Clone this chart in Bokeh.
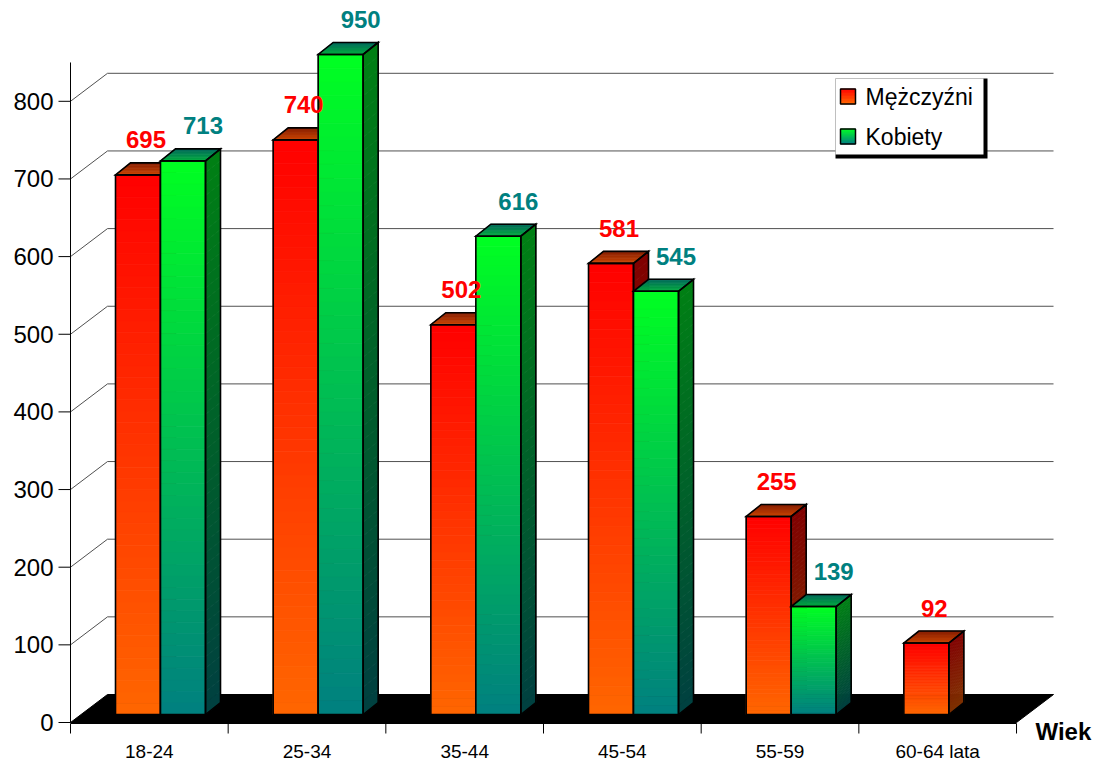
import numpy as np
from bokeh.plotting import figure
from bokeh.models import Range1d, ColumnDataSource
from bokeh.core.properties import value
from bokeh.embed import file_html
from bokeh.resources import INLINE

# ---------------- data ----------------
categories = ["18-24", "25-34", "35-44", "45-54", "55-59", "60-64 lata"]
series_names = ["Mężczyźni", "Kobiety"]
men = [695, 740, 502, 581, 255, 92]
women = [713, 950, 616, 545, 139, None]
y_ticks = [0, 100, 200, 300, 400, 500, 600, 700, 800]
y_tick_labels = ["0", "100", "200", "300", "400", "500", "600", "700", "800"]
axis_max = 850
x_title = "Wiek"

# ---------------- layout (picture px) ----------------
W, H = 1099, 762
OFF = 0
X0, CAT_PX = 70.0, 157.67      # x of category 0, px per category
Y0, V_PX = 722.0, 0.7765       # y of value 0 (front), px per unit


def cx(X):
    return (X - X0) / CAT_PX


def vy(Y):
    return (Y0 - Y) / V_PX


def dcx(dx):
    return dx / CAT_PX


def dvy(dy):  # dy: px upward
    return dy / V_PX


p = figure(width=W, height=H,
           x_range=Range1d(cx(OFF), cx(OFF + W)),
           y_range=Range1d(vy(OFF + H), vy(OFF)),
           output_backend="svg", toolbar_location=None,
           min_border=0, x_axis_type=None, y_axis_type=None)
p.outline_line_color = None
p.background_fill_color = "white"

FONT = value("Liberation Sans")

# wall depth
WX, WV = dcx(37), dvy(28)
n_cat = len(categories)

# floor
p.patch([0, WX, n_cat + WX, n_cat], [0, WV, WV, 0], fill_color="black", line_color="black")

# gridlines on back wall + diagonals on side wall
gx, gy = [], []
for t in y_ticks[1:]:
    gx.append([0, WX, n_cat + WX])
    gy.append([t, t + WV, t + WV])
p.multi_line(gx, gy, line_color="#505050", line_width=1)

# y axis line + ticks
p.line([0, 0], [0, axis_max], line_color="black", line_width=1)
p.segment(x0=[dcx(-12)] * len(y_ticks), y0=y_ticks, x1=[0] * len(y_ticks), y1=y_ticks,
          line_color="black", line_width=1)
p.text(x=[dcx(-17)] * len(y_ticks), y=y_ticks, text=y_tick_labels, text_font=FONT,
       text_font_size="24px", text_align="right", text_baseline="middle", text_color="black")

# x axis line + ticks
xa_v = vy(723)
p.line([0, n_cat], [xa_v, xa_v], line_color="black", line_width=1)
ticks_c = list(range(n_cat + 1))
p.segment(x0=ticks_c, y0=[xa_v] * len(ticks_c), x1=ticks_c, y1=[vy(733)] * len(ticks_c),
          line_color="black", line_width=1)
p.text(x=[i + 0.5 for i in range(n_cat)], y=[vy(751)] * n_cat, text=categories, text_font=FONT,
       text_font_size="19px", text_align="center", text_baseline="middle", text_color="black")
p.text(x=[cx(1035)], y=[vy(731)], text=[x_title], text_font=FONT, text_font_size="24px",
       text_font_style="bold", text_align="left", text_baseline="middle", text_color="black")

# ---------------- bars ----------------
BAR_W = dcx(45)
BAR_OFF = dcx(45)
BASE = vy(714)
BDX, BDV = dcx(15), dvy(12)

pal = {
    0: dict(front=((255, 0, 0), (255, 102, 0)), side=((128, 0, 0), (128, 51, 0)),
            top=((205, 70, 0), (135, 30, 0)), label="#ff0000"),
    1: dict(front=((0, 255, 34), (0, 128, 128)), side=((0, 128, 20), (0, 64, 64)),
            top=((0, 175, 60), (0, 105, 90)), label="#008080"),
}


def lerp(c1, c2, t):
    return "#%02x%02x%02x" % tuple(int(round(a + (b - a) * t)) for a, b in zip(c1, c2))


xs, ys, fc, fa, lc, lw = [], [], [], [], [], []


def add(px, py, fill, outline=False):
    xs.append(px)
    ys.append(py)
    if outline:
        fc.append("black"); fa.append(0.0); lc.append("black"); lw.append(1.6)
    else:
        fc.append(fill); fa.append(1.0); lc.append(fill); lw.append(0.8)


N = 48
lab_x, lab_y, lab_t, lab_c = [], [], [], []
for i in range(n_cat):
    for s, vals in enumerate([men, women]):
        v = vals[i]
        if v is None:
            continue
        col = pal[s]
        l = i + BAR_OFF + s * BAR_W
        r = l + BAR_W
        top = min(v, axis_max) + BASE
        # front face
        edges = np.linspace(top, BASE, N + 1)
        for k in range(N):
            c = lerp(col["front"][0], col["front"][1], (k + 0.5) / N)
            add([l, r, r, l], [edges[k], edges[k], edges[k + 1], edges[k + 1]], c)
        # side face
        for k in range(N):
            c = lerp(col["side"][0], col["side"][1], (k + 0.5) / N)
            a, b = edges[k], edges[k + 1]
            add([r, r + BDX, r + BDX, r], [a, a + BDV, b + BDV, b], c)
        # top face
        M = 8
        for k in range(M):
            t0, t1 = k / M, (k + 1) / M
            c = lerp(col["top"][0], col["top"][1], (k + 0.5) / M)
            add([l + BDX * t0, r + BDX * t0, r + BDX * t1, l + BDX * t1],
                [top + BDV * t0, top + BDV * t0, top + BDV * t1, top + BDV * t1], c)
        # outlines
        add([l, r, r, l], [BASE, BASE, top, top], None, True)
        add([r, r + BDX, r + BDX, r], [BASE, BASE + BDV, top + BDV, top], None, True)
        add([l, r, r + BDX, l + BDX], [top, top, top + BDV, top + BDV], None, True)
        # label
        lab_x.append((l + r) / 2 + dcx(8 if s == 0 else 20))
        lab_y.append(top + dvy(35))
        lab_t.append(str(v))
        lab_c.append(col["label"])

src = ColumnDataSource(dict(xs=xs, ys=ys, fc=fc, fa=fa, lc=lc, lw=lw))
p.patches("xs", "ys", source=src, fill_color="fc", fill_alpha="fa", line_color="lc",
          line_width="lw", line_join="miter")

p.text(x=lab_x, y=lab_y, text=lab_t, text_color=lab_c, text_font=FONT, text_font_size="24px",
       text_font_style="bold", text_align="center", text_baseline="middle")

# ---------------- legend ----------------
p.quad(left=[cx(835)], right=[cx(987)], bottom=[vy(158)], top=[vy(78)], fill_color="black",
       line_color=None)
p.quad(left=[cx(835)], right=[cx(983)], bottom=[vy(154)], top=[vy(78)], fill_color="white",
       line_color=None)
lxs, lys, lfc = [], [], []
ox, oy = [], []
for s, yc in enumerate([96, 136]):
    col = pal[s]["front"]
    Ms = 10
    e = np.linspace(vy(yc - 7.5), vy(yc + 7.5), Ms + 1)
    for k in range(Ms):
        lxs.append([cx(840), cx(855), cx(855), cx(840)])
        lys.append([e[k], e[k], e[k + 1], e[k + 1]])
        lfc.append(lerp(col[0], col[1], (k + 0.5) / Ms))
    ox.append([cx(840), cx(855), cx(855), cx(840)])
    oy.append([vy(yc - 7.5), vy(yc - 7.5), vy(yc + 7.5), vy(yc + 7.5)])
p.patches(lxs, lys, fill_color=lfc, line_color=lfc, line_width=0.8)
p.patches(ox, oy, fill_alpha=0, line_color="black", line_width=1.5)
p.text(x=[cx(865)] * 2, y=[vy(96), vy(136)], text=series_names, text_font=FONT,
       text_font_size="23px", text_align="left", text_baseline="middle", text_color="black")

open("out.html", "w").write(file_html(p, INLINE))
